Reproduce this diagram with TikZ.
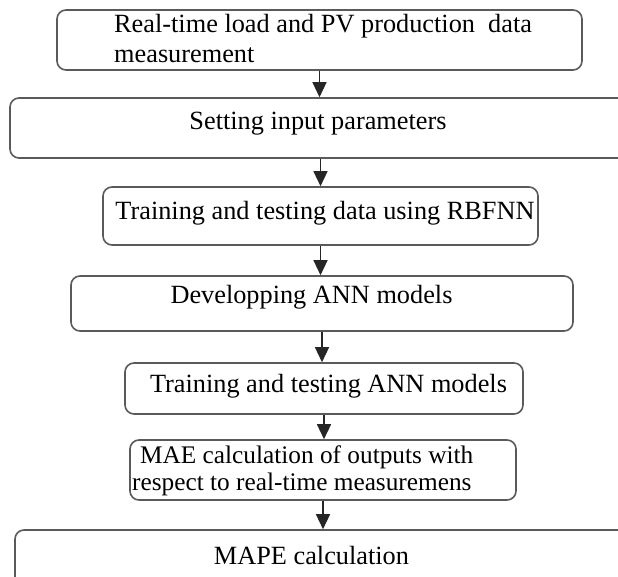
\documentclass[tikz,border=0pt]{standalone}
\usepackage{fontspec}
\setmainfont{Liberation Serif}
\usetikzlibrary{arrows.meta}
\definecolor{boxgray}{HTML}{5A5A5A}
\begin{document}
\begin{tikzpicture}[x=1pt,y=-1pt,
  box/.style={draw=boxgray, line width=1.6pt, rounded corners=9pt, inner sep=0pt},
  txt/.style={inner sep=0pt, font=\fontsize{26.3}{30}\selectfont, anchor=base},
  arr/.style={-{Triangle[width=14pt,length=15pt]}, line width=1.4pt, draw=black!85, fill=black!85}]
\useasboundingbox (0,0) rectangle (618,577);
\clip (0,0) rectangle (618,577);
\node[box, minimum width=525pt, minimum height=60pt] (b1) at (319.5,40) {};
\node[box, minimum width=630pt, minimum height=60pt] (b2) at (325,128) {};
\node[box, minimum width=435pt, minimum height=58pt] (b3) at (320.5,216) {};
\node[box, minimum width=502pt, minimum height=55pt] (b4) at (322,303.5) {};
\node[box, minimum width=398pt, minimum height=51pt] (b5) at (324,388.5) {};
\node[box, minimum width=386pt, minimum height=60pt] (b6) at (323,470) {};
\node[box, minimum width=625pt, minimum height=70pt] (b7) at (327.5,565) {};
\node[txt, anchor=base west, align=left] (t1) at (114,63) {Real-time load and PV production\ \ data\\measurement};
\node[txt] (t2) at (318,130) {Setting input parameters};
\node[txt] (t3) at (325,220) {Training and testing data using RBFNN};
\node[txt] (t4) at (311.5,303) {Developping ANN models};
\node[txt] (t5) at (328.5,392) {Training and testing ANN models};
\node[txt, font=\fontsize{25.3}{27}\selectfont, anchor=base west, align=left] (t6) at (132,490) {\hspace*{8pt}MAE calculation of outputs with\\respect to real-time measuremens};
\node[txt] (t7) at (311.5,564) {MAPE calculation};
\draw[arr] (b1.south) -- (b1.south |- b2.north);
\draw[arr] (b3.north |- b2.south) -- (b3.north);
\draw[arr] (b3.south) -- (b3.south |- b4.north);
\draw[arr] (b4.south) -- (b4.south |- b5.north);
\draw[arr] (b5.south) -- (b5.south |- b6.north);
\draw[arr] (b6.south) -- (b6.south |- b7.north);
\end{tikzpicture}
\end{document}
